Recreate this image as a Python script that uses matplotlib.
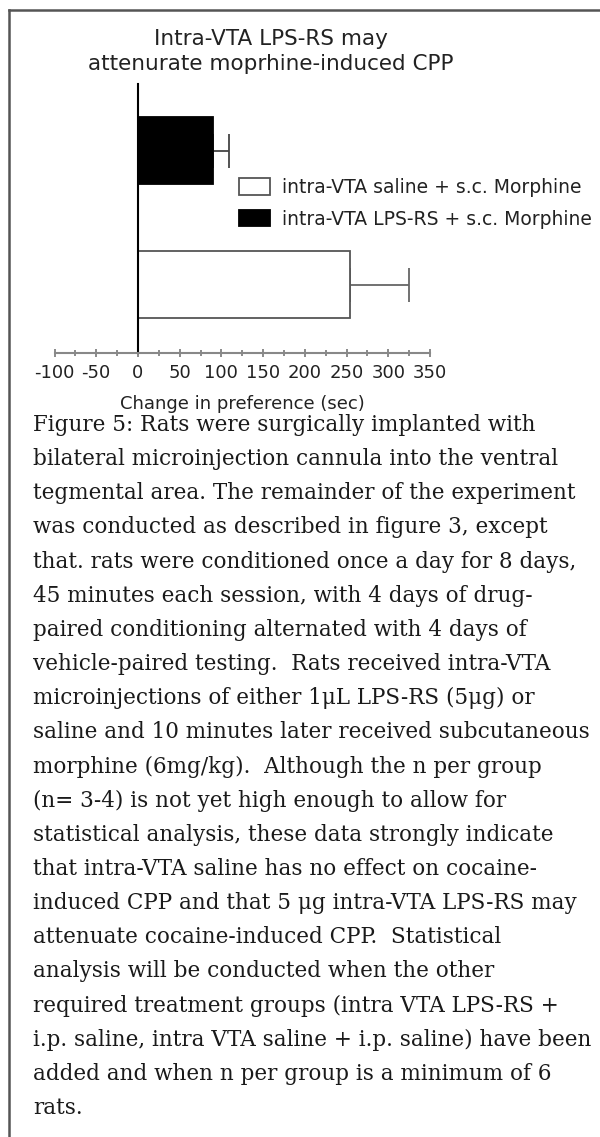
import matplotlib
matplotlib.use("Agg")
import matplotlib.pyplot as plt
from matplotlib.lines import Line2D

plt.rcParams['axes.unicode_minus'] = False

# данные графика
groups = ['intra-VTA saline + s.c. Morphine', 'intra-VTA LPS-RS + s.c. Morphine']
means = [254, 90]
sems = [71, 19]
bar_colors = ['white', 'black']
edge_colors = ['#555555', 'black']
err_colors = ['#666666', '#444444']
xticks = [-100, -50, 0, 50, 100, 150, 200, 250, 300, 350]
title_lines = ['Intra-VTA LPS-RS may', 'attenurate moprhine-induced CPP']
xlabel = 'Change in preference (sec)'

caption = [
    'Figure 5: Rats were surgically implanted with',
    'bilateral microinjection cannula into the ventral',
    'tegmental area. The remainder of the experiment',
    'was conducted as described in figure 3, except',
    'that. rats were conditioned once a day for 8 days,',
    '45 minutes each session, with 4 days of drug-',
    'paired conditioning alternated with 4 days of',
    'vehicle-paired testing.  Rats received intra-VTA',
    'microinjections of either 1\u03bcL LPS-RS (5\u03bcg) or',
    'saline and 10 minutes later received subcutaneous',
    'morphine (6mg/kg).  Although the n per group',
    '(n= 3-4) is not yet high enough to allow for',
    'statistical analysis, these data strongly indicate',
    'that intra-VTA saline has no effect on cocaine-',
    'induced CPP and that 5 \u03bcg intra-VTA LPS-RS may',
    'attenuate cocaine-induced CPP.  Statistical',
    'analysis will be conducted when the other',
    'required treatment groups (intra VTA LPS-RS +',
    'i.p. saline, intra VTA saline + i.p. saline) have been',
    'added and when n per group is a minimum of 6',
    'rats.',
]

W, H = 600, 1137
fig = plt.figure(figsize=(W / 100, H / 100), dpi=100)
fig.patch.set_facecolor('white')

def fx(px):
    return px / W

def fy(py):
    return 1 - py / H

# рамка страницы
fig.add_artist(Line2D([fx(9), 1], [fy(9.5), fy(9.5)], color='#555555', lw=1.8))
fig.add_artist(Line2D([fx(9), fx(9)], [fy(9.5), 0], color='#555555', lw=1.8))

# заголовок
for i, line in enumerate(title_lines):
    fig.text(fx(271), fy(39 + i * 25), line, ha='center', va='center',
             fontsize=15.5, family='DejaVu Sans', color='#222222')

# оси
ax = fig.add_axes([fx(54.5), fy(353), fx(430) - fx(54.5), (353 - 84) / H])
ypos = list(range(len(groups)))
for k in range(len(groups)):
    ax.barh(ypos[k], means[k], height=0.5, color=bar_colors[k],
            edgecolor=edge_colors[k], linewidth=1.3, label=groups[k], zorder=2)
    ax.errorbar(means[k], ypos[k], xerr=[[0], [sems[k]]], fmt='none',
                ecolor=err_colors[k], elinewidth=1.3, capsize=12.5, capthick=1.3,
                zorder=1)

ax.set_xlim(-100, 350)
ax.set_ylim(-0.51, 1.5)
ax.set_xticks(xticks)
ax.set_xticks(range(-75, 350, 50), minor=True)
ax.set_yticks([])
for s in ['top', 'right']:
    ax.spines[s].set_visible(False)
ax.spines['left'].set_position(('data', 0))
ax.spines['left'].set_color('black')
ax.spines['left'].set_linewidth(1.5)
ax.spines['bottom'].set_color('#888888')
ax.spines['bottom'].set_linewidth(1.5)
ax.tick_params(axis='x', which='major', direction='inout', length=6, width=1.2,
               color='#777777', pad=5, labelsize=13, labelcolor='#222222')
ax.tick_params(axis='x', which='minor', direction='inout', length=5, width=1.2,
               color='#777777')
for lab in ax.get_xticklabels():
    lab.set_family('DejaVu Sans')
ax.set_xlabel(xlabel, fontsize=13, color='#222222', labelpad=9, family='DejaVu Sans')

ax.legend(loc='upper left', bbox_to_anchor=(fx(239), fy(178)),
          bbox_transform=fig.transFigure, frameon=False, borderpad=0,
          borderaxespad=0, handlelength=1.65, handleheight=0.96,
          handletextpad=0.65, labelspacing=0.68,
          prop={'family': 'DejaVu Sans', 'size': 13.5}, labelcolor='#222222')

# подпись к рисунку
for i, line in enumerate(caption):
    fig.text(fx(33), fy(425 + i * 34.15), line, ha='left', va='center',
             fontsize=15.5, family='DejaVu Serif', color='#1a1a1a')

fig.savefig('out.png', dpi=100, facecolor='white')
